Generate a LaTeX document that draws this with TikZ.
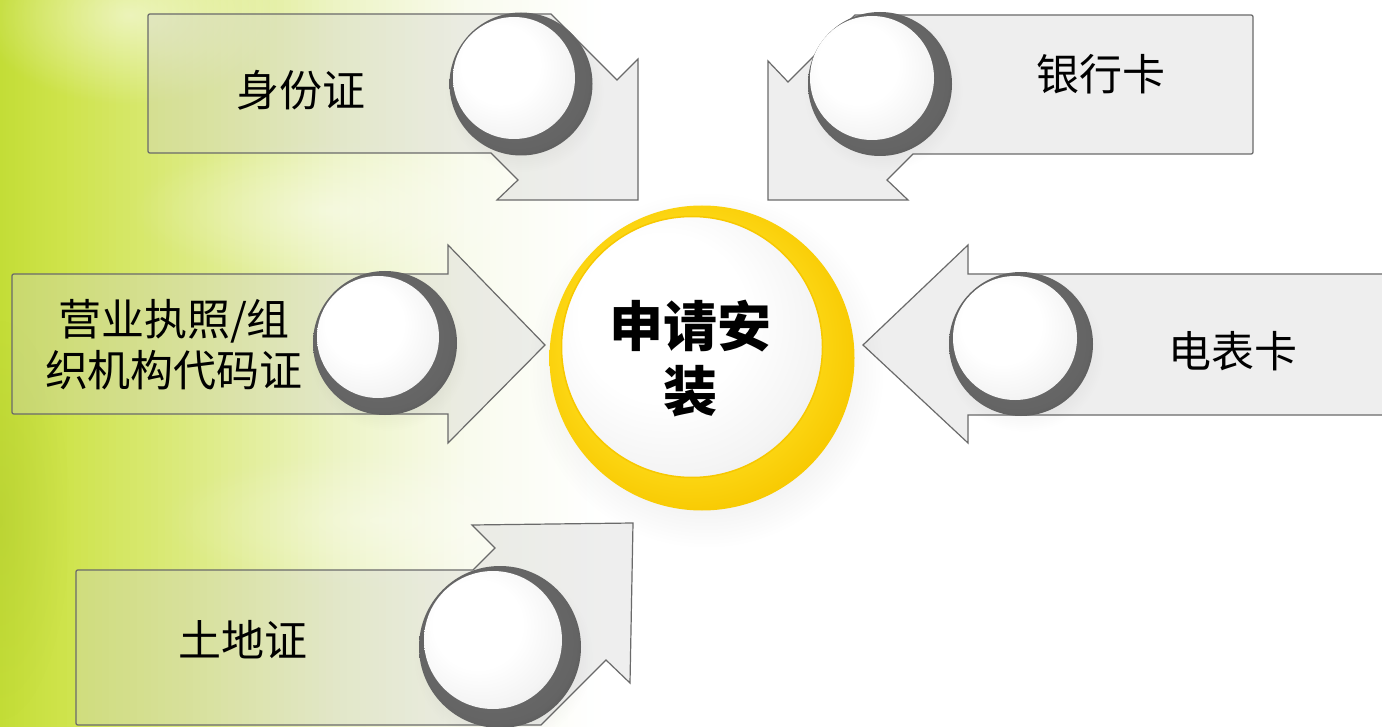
\documentclass[tikz,border=0pt]{standalone}
\usepackage{fontspec}
\newfontfamily\cjk{Noto Sans CJK SC}
\usetikzlibrary{fadings}
\tikzfading[name=softglow, inner color=transparent!0, outer color=transparent!100]
\definecolor{bgA}{HTML}{C3DD36}
\definecolor{bgB}{HTML}{CEE34A}
\definecolor{bgC}{HTML}{DDEB84}
\definecolor{bgD}{HTML}{EDF4C6}
\definecolor{bgE}{HTML}{F9FBEE}
\definecolor{edge}{HTML}{6A6A6A}
\definecolor{boxfill}{HTML}{D0D0D0}
\definecolor{rg1}{HTML}{707070}
\definecolor{rg2}{HTML}{646464}
\definecolor{rg3}{HTML}{505050}
\definecolor{rg4}{HTML}{363636}
\definecolor{wd1}{HTML}{FFFFFF}
\definecolor{wd2}{HTML}{F4F4F4}
\definecolor{wd3}{HTML}{E2E2E2}
\definecolor{wd4}{HTML}{CCCCCC}
\definecolor{gd1}{HTML}{FFE04A}
\definecolor{gd2}{HTML}{FDD816}
\definecolor{gd3}{HTML}{F7C800}
\definecolor{gd4}{HTML}{E4AB00}
\definecolor{gd5}{HTML}{C48A00}
\pgfdeclareradialshading{ringsh}{\pgfpoint{-3bp}{3bp}}{color(0bp)=(rg1); color(25bp)=(rg2); color(31bp)=(rg3); color(35bp)=(rg4); color(45bp)=(rg4)}
\pgfdeclareradialshading{whitesh}{\pgfpoint{-8bp}{8bp}}{color(0bp)=(wd1); color(16bp)=(wd1); color(28bp)=(wd2); color(38bp)=(wd3); color(46bp)=(wd4); color(52bp)=(wd4)}
\pgfdeclareradialshading{goldsh}{\pgfpoint{-4bp}{4bp}}{color(0bp)=(gd1); color(20bp)=(gd2); color(28bp)=(gd3); color(33bp)=(gd4); color(37bp)=(gd5); color(45bp)=(gd5)}
\tikzset{
  box/.style={draw=edge, line width=1.2pt, fill=boxfill, fill opacity=0.35, line join=miter},
  ring/.style={circle, inner sep=0pt, shading=ringsh},
  disc/.style={circle, inner sep=0pt, shading=whitesh},
  shadow/.style={fill=black, opacity=0.16, path fading=softglow},
  lbl/.style={inner sep=0pt, text=black, font=\cjk\fontsize{43}{51}\selectfont, align=center},
  hub/.style={inner sep=0pt, text=black, font=\cjk\bfseries\fontsize{54}{65}\selectfont, align=center}
}
\begin{document}
\begin{tikzpicture}[x=1pt,y=-1pt]
\useasboundingbox (0,0) rectangle (1382,727);
\clip (0,0) rectangle (1382,727);
% background
\fill[white] (0,0) rectangle (1382,727);
\foreach \xa/\xb/\ca/\cb in {0/60/bgA/bgB, 60/200/bgB/bgC, 200/340/bgC/bgD, 340/470/bgD/bgE, 470/600/bgE/white}{
  \foreach \k in {0,...,19}{
    \pgfmathsetmacro{\xl}{\xa+(\xb-\xa)*\k/20}
    \pgfmathsetmacro{\xr}{\xa+(\xb-\xa)*(\k+1)/20+0.8}
    \pgfmathsetmacro{\pc}{100-(\k*5+2.5)}
    \fill[\ca!\pc!\cb] (\xl,0) rectangle (\xr,727);
  }
}
\fill[white, opacity=0.55, path fading=softglow] (130,15) ellipse (150 and 90);
\fill[white, opacity=0.45, path fading=softglow] (330,210) ellipse (200 and 70);
\fill[white, opacity=0.35, path fading=softglow] (380,520) ellipse (220 and 70);
\fill[bgA!85!black, opacity=0.25, path fading=softglow] (0,520) ellipse (70 and 200);

% arrow shapes
\draw[box] (152,14) -- (551,14) -- (617,80) -- (638,59) -- (638,200) -- (497,200) -- (518,180) -- (491,153)
  -- (152,153) .. controls (148,153) .. (148,149) -- (148,18) .. controls (148,14) .. (152,14) -- cycle;
\draw[box] (1249,15) -- (855,15) -- (788,82) -- (768,61) -- (768,200) -- (908,200) -- (887,180) -- (913,154)
  -- (1249,154) .. controls (1253,154) .. (1253,150) -- (1253,19) .. controls (1253,15) .. (1249,15) -- cycle;
\draw[box] (16,274) -- (448,274) -- (448,245) -- (545,345) -- (448,443) -- (448,414)
  -- (16,414) .. controls (12,414) .. (12,410) -- (12,278) .. controls (12,274) .. (16,274) -- cycle;
\draw[box] (1395,274) -- (968,274) -- (968,245) -- (863,345) -- (968,443) -- (968,415) -- (1395,415);
\draw[box] (80,570) -- (473,570) -- (495,548) -- (472,525) -- (633,523) -- (630,683) -- (606,660) -- (541,725)
  -- (80,725) .. controls (76,725) .. (76,721) -- (76,574) .. controls (76,570) .. (80,570) -- cycle;

% small buttons
\fill[shadow] (524,92) circle (80);
\fill[shadow] (883,91) circle (80);
\fill[shadow] (388,351) circle (80);
\fill[shadow] (1024,352) circle (80);
\fill[shadow] (503,656) circle (90);
\node[ring, minimum size=143] (r1) at (521,84) {};
\node[disc, minimum size=122] (d1) at (514,78) {};
\node[ring, minimum size=144] (r2) at (880,84) {};
\node[disc, minimum size=124] (d2) at (872,78) {};
\node[ring, minimum size=144] (r3) at (385,343) {};
\node[disc, minimum size=122] (d3) at (378,337) {};
\node[ring, minimum size=144] (r4) at (1021,344) {};
\node[disc, minimum size=124] (d4) at (1015,338) {};
\node[ring, minimum size=162] (r5) at (500,647) {};
\node[disc, minimum size=138] (d5) at (493,640) {};

% hub
\fill[fill=black, opacity=0.2, path fading=softglow] (706,370) circle (178);
\node[circle, inner sep=0pt, shading=goldsh, minimum size=305] (hubring) at (702,358) {};
\node[circle, inner sep=0pt, shading=whitesh, draw=gd3, line width=1.5pt, minimum size=261] (hubdisc) at (692,347) {};
\node[hub] (hubtext) at (690,359) {申请安\\装};

% labels
\node[lbl] (t1) at (301,90) {身份证};
\node[lbl] (t2) at (1101,74) {银行卡};
\node[lbl] (t3) at (174,345) {营业执照/组\\织机构代码证};
\node[lbl] (t4) at (1233,351) {电表卡};
\node[lbl] (t5) at (243,640) {土地证};
\end{tikzpicture}
\end{document}
